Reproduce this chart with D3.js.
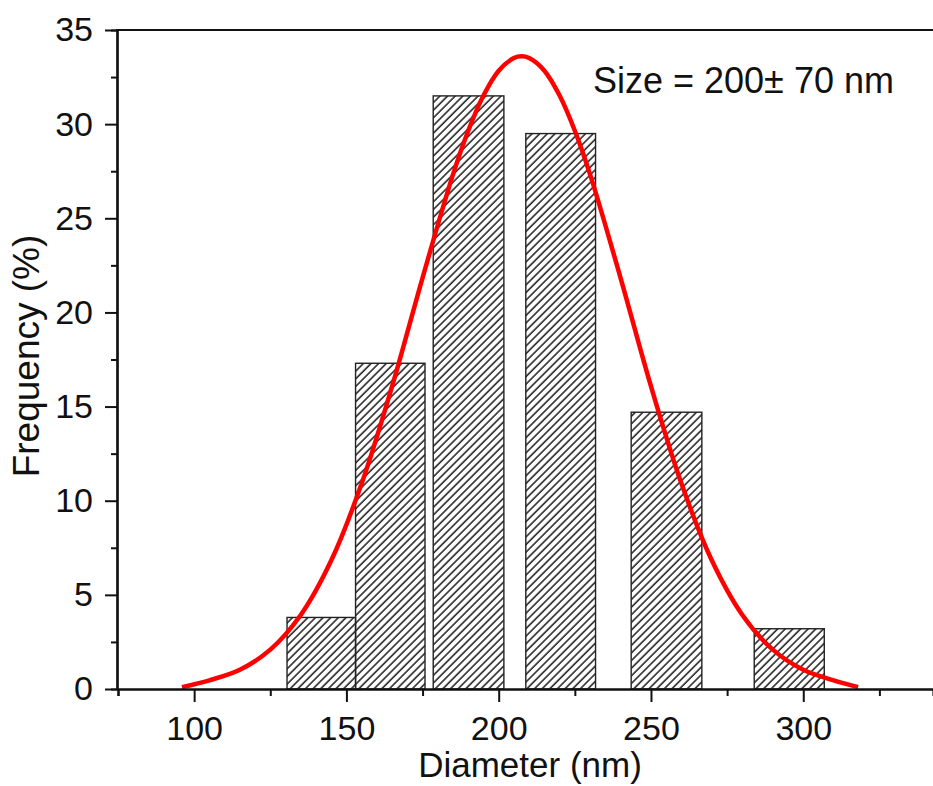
<!DOCTYPE html>
<html>
<head>
<meta charset="utf-8">
<script src="https://cdn.jsdelivr.net/npm/d3@7"></script>
<style>
  body { margin: 0; background: #fff; }
  svg { display: block; font-family: "Liberation Sans", Arial, sans-serif; }
</style>
</head>
<body>
<svg id="chart"></svg>
<script>
// bins (nm) and their frequency (%)
const binStart = [130.5, 153, 178.5, 208.9, 243.5, 283.9];
const binEnd = [153, 175.8, 201.7, 231.8, 266.7, 306.9];
const freq = [3.8, 17.3, 31.5, 29.5, 14.7, 3.2];

// red fitted curve
const curveX = [96, 105, 115, 125, 135, 145, 155, 165, 175, 185, 190, 195, 200, 205, 207.5, 210, 215, 220, 225, 230, 240, 250, 260, 270, 280, 290, 300, 310, 318];
const curveY = [0.1, 0.46, 1.02, 2.09, 3.93, 6.82, 10.91, 16.08, 21.84, 27.33, 29.65, 31.52, 32.84, 33.51, 33.6, 33.51, 32.84, 31.52, 29.65, 27.33, 21.84, 16.08, 10.91, 6.82, 3.93, 2.09, 1.02, 0.46, 0.1];

const xMajor = [100, 150, 200, 250, 300];
const xMinor = [75, 125, 175, 225, 275, 325];
const yMajor = [0, 5, 10, 15, 20, 25, 30, 35];
const yMinor = [2.5, 7.5, 12.5, 17.5, 22.5, 27.5, 32.5];

const w = 933;
const h = 786;

const svg = d3.select("#chart")
    .attr("width", w)
    .attr("height", h);

svg.append("rect").attr("width", w).attr("height", h).attr("fill", "#fff");

const x = d3.scaleLinear().domain([75, 342.6]).range([118, 933]);
const y = d3.scaleLinear().domain([0, 35]).range([689, 30]);

// hatch fill
const defs = svg.append("defs");
defs.append("pattern")
    .attr("id", "hatch")
    .attr("patternUnits", "userSpaceOnUse")
    .attr("width", 5.4)
    .attr("height", 5.4)
    .attr("patternTransform", "rotate(45)")
  .append("line")
    .attr("x1", 1).attr("y1", 0)
    .attr("x2", 1).attr("y2", 5.4)
    .attr("stroke", "#2a2a2a")
    .attr("stroke-width", 1.6);

const bins = freq.map((f, i) => ({ x0: binStart[i], x1: binEnd[i], f }));

svg.selectAll("rect.bar")
    .data(bins)
    .enter()
    .append("rect")
    .attr("class", "bar")
    .attr("x", d => x(d.x0))
    .attr("y", d => y(d.f))
    .attr("width", d => x(d.x1) - x(d.x0))
    .attr("height", d => y(0) - y(d.f))
    .attr("fill", "url(#hatch)")
    .attr("stroke", "#222")
    .attr("stroke-width", 1.4);

// fitted curve
const pts = curveX.map((v, i) => [v, curveY[i]]);
const line = d3.line()
    .x(d => x(d[0]))
    .y(d => y(d[1]))
    .curve(d3.curveCatmullRom);

svg.append("path")
    .datum(pts)
    .attr("d", line)
    .attr("fill", "none")
    .attr("stroke", "#ff0000")
    .attr("stroke-width", 4.5);

// axes
const xAxis = svg.append("g").attr("transform", `translate(0, ${y(0)})`);
xAxis.call(d3.axisBottom(x).tickValues(xMajor).tickSize(13).tickSizeOuter(0).tickPadding(14));
xAxis.append("g").call(d3.axisBottom(x).tickValues(xMinor).tickSize(7).tickFormat(""));

const yAxis = svg.append("g").attr("transform", `translate(${x(75) - 1}, 0)`);
yAxis.call(d3.axisLeft(y).tickValues(yMajor).tickSize(12).tickSizeOuter(0).tickPadding(12));
yAxis.append("g").call(d3.axisLeft(y).tickValues(yMinor).tickSize(6).tickFormat(""));

svg.selectAll(".domain").attr("stroke", "#111").attr("stroke-width", 2.2);
svg.selectAll(".tick line").attr("stroke", "#111").attr("stroke-width", 2);
svg.selectAll(".tick text")
    .attr("font-size", 34)
    .attr("fill", "#111")
    .attr("font-family", "Liberation Sans, Arial, sans-serif");

// top frame line
svg.append("line")
    .attr("x1", x(75) - 2).attr("x2", w)
    .attr("y1", y(35)).attr("y2", y(35))
    .attr("stroke", "#111")
    .attr("stroke-width", 2.2);

// titles
svg.append("text")
    .attr("x", 530)
    .attr("y", 777)
    .attr("text-anchor", "middle")
    .attr("font-size", 35)
    .attr("fill", "#111")
    .text("Diameter (nm)");

svg.append("text")
    .attr("transform", "translate(39, 356) rotate(-90)")
    .attr("text-anchor", "middle")
    .attr("font-size", 37)
    .attr("fill", "#111")
    .text("Frequency (%)");

svg.append("text")
    .attr("x", 593)
    .attr("y", 93)
    .attr("font-size", 36)
    .attr("fill", "#111")
    .text("Size = 200\u00b1 70 nm");
</script>
</body>
</html>
